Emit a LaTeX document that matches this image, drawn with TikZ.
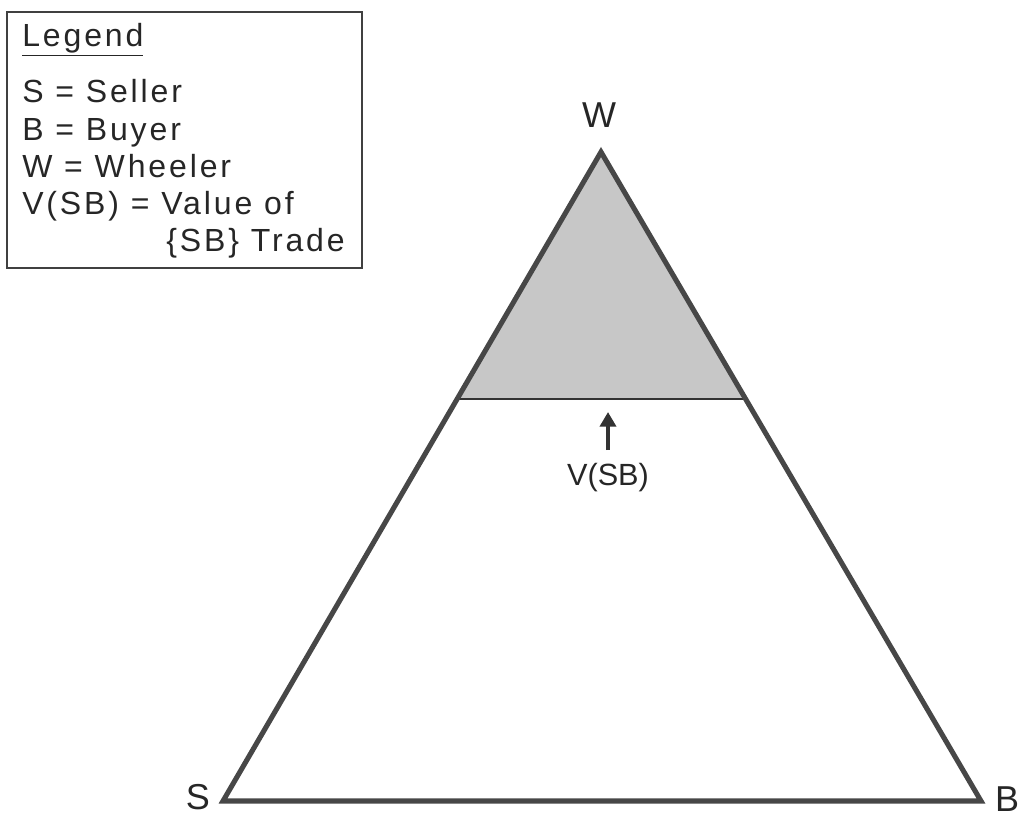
\documentclass[tikz,border=0pt]{standalone}
\usepackage{fontspec}
\setmainfont{Liberation Sans}
\newfontfamily\legfont[LetterSpace=9]{Liberation Sans}
\usetikzlibrary{calc,arrows.meta}
\begin{document}
\begin{tikzpicture}[x=0.75pt,y=-0.75pt,
  edge/.style={line width=3.8pt,draw=black!72,line join=miter},
  cutline/.style={line width=1.4pt,draw=black!80},
  shade/.style={fill=black!22},
  vertexlbl/.style={font=\fontsize{27}{30}\selectfont,text=black!85,inner sep=0pt},
  leg/.style={font=\legfont\fontsize{24}{28}\selectfont,text=black!85,anchor=base west,inner sep=0pt},
  legbox/.style={line width=1.1pt,draw=black!75},
  arr/.style={line width=3pt,draw=black!80,-{Triangle[width=12pt,length=11pt]}}]
\useasboundingbox (0,0) rectangle (1021,817);
% corners
\coordinate (W) at (601,152);
\coordinate (S) at (223,801);
\coordinate (B) at (981,801);
\coordinate (CL) at ($(W)!0.3806!(S)$);
\coordinate (CR) at ($(W)!0.3806!(B)$);
% shaded cap
\fill[shade] (W) -- (CL) -- (CR) -- cycle;
\draw[cutline] (CL) -- (CR);
\draw[edge] (W) -- (S) -- (B) -- cycle;
% labels
\node[vertexlbl] (Wl) at (599,115) {W};
\node[vertexlbl] (Sl) at (198,797) {S};
\node[vertexlbl] (Bl) at (1007,799) {B};
% arrow and label
\node[font=\fontsize{23}{26}\selectfont,text=black!85,inner sep=0pt,anchor=base] (V) at (608,485) {V(SB)};
\coordinate (Vtop) at (608,450);
\coordinate (Vtip) at (608,412);
\draw[arr] (Vtop) -- (Vtip);
% legend
\draw[legbox] (7,12) rectangle (362,268);
\node[leg] (L0) at (22,47) {\underline{Legend}};
\node[leg] (L1) at (22,103) {S = Seller};
\node[leg] (L2) at (22,140) {B = Buyer};
\node[leg] (L3) at (22,177) {W = Wheeler};
\node[leg] (L4) at (22,214) {V(SB) = Value of};
\node[leg,anchor=base east] (L5) at (345,251) {\{SB\} Trade};
\end{tikzpicture}
\end{document}
